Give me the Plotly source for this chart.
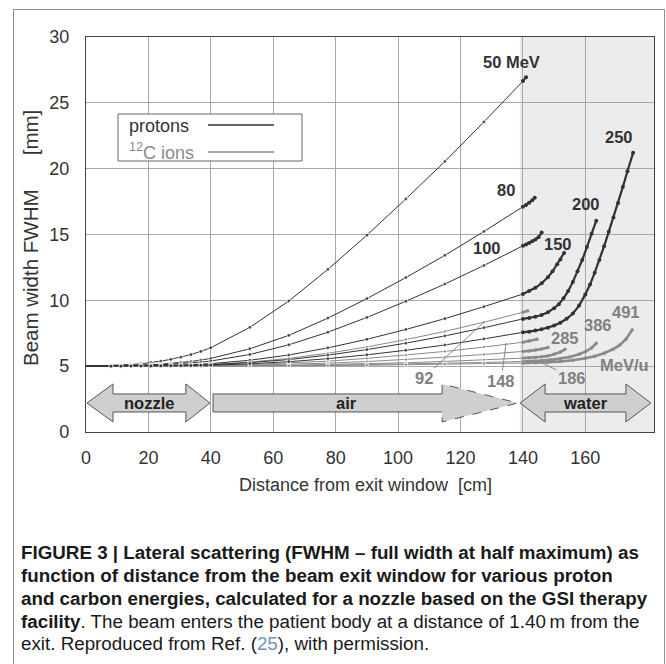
import plotly.graph_objects as go

# ---------------- data ----------------
X_AIR = [0, 8, 11.2, 14.4, 17.6, 20.8, 24, 27.2, 30.4, 33.6, 36.8, 40,
         52.5, 65, 77.5, 90, 102.5, 115, 127.5, 140]

# protons, nozzle + air
P50_AIR = [5.00, 5.05, 5.08, 5.12, 5.18, 5.27, 5.38, 5.52, 5.68, 5.88, 6.12, 6.40,
           7.95, 9.95, 12.35, 14.95, 17.70, 20.55, 23.55, 26.65]
P80_AIR = [5.00, 5.02, 5.03, 5.05, 5.07, 5.11, 5.15, 5.21, 5.28, 5.36, 5.46, 5.59,
           6.32, 7.34, 8.65, 10.13, 11.73, 13.42, 15.23, 17.11]
P100_AIR = [5.00, 5.01, 5.02, 5.03, 5.05, 5.07, 5.10, 5.14, 5.18, 5.24, 5.31, 5.39,
            5.89, 6.62, 7.58, 8.70, 9.93, 11.24, 12.65, 14.14]
P150_AIR = [5.00, 5.01, 5.01, 5.02, 5.02, 5.03, 5.05, 5.07, 5.09, 5.12, 5.15, 5.19,
            5.45, 5.85, 6.39, 7.04, 7.79, 8.61, 9.52, 10.48]
P200_AIR = [5.00, 5.00, 5.01, 5.01, 5.01, 5.02, 5.03, 5.04, 5.05, 5.07, 5.09, 5.11,
            5.27, 5.50, 5.84, 6.26, 6.75, 7.30, 7.92, 8.59]
P250_AIR = [5.00, 5.00, 5.00, 5.01, 5.01, 5.01, 5.02, 5.03, 5.03, 5.04, 5.06, 5.07,
            5.18, 5.34, 5.57, 5.86, 6.21, 6.61, 7.07, 7.57]

# protons, water
P50_WX = [140, 141]
P50_WY = [26.65, 26.95]
P80_WX = [140, 141, 142, 143, 143.8]
P80_WY = [17.11, 17.25, 17.42, 17.6, 17.8]
P100_WX = [140, 141, 142, 143, 144, 145, 146]
P100_WY = [14.14, 14.25, 14.36, 14.48, 14.62, 14.8, 15.15]
P150_WX = [140, 142, 144, 146, 148, 149.5, 151, 152, 153.2]
P150_WY = [10.48, 10.7, 10.95, 11.3, 11.75, 12.2, 12.75, 13.1, 13.6]
P200_WX = [140, 142, 144, 146, 148, 150, 151.5, 153, 154.5, 156, 157.5, 159, 160.5, 162, 163.5]
P200_WY = [8.59, 8.66, 8.75, 8.88, 9.1, 9.4, 9.7, 10.15, 10.7, 11.4, 12.2, 13.06, 14.05, 15.05, 16.05]
P250_WX = [140, 142, 144, 146, 148, 150, 152, 154, 156, 158, 160, 161.5, 163, 164.5,
           166, 167.5, 169, 170.5, 172, 173.5, 175.3]
P250_WY = [7.57, 7.62, 7.7, 7.8, 7.92, 8.08, 8.3, 8.6, 9.0, 9.6, 10.45, 11.2, 12.1, 13.06,
           14.1, 15.2, 16.3, 17.4, 18.6, 19.8, 21.2]

# carbon ions, nozzle + air
C92_AIR = [5.00, 5.00, 5.01, 5.01, 5.02, 5.02, 5.03, 5.05, 5.06, 5.08, 5.10, 5.13,
           5.31, 5.59, 5.98, 6.46, 7.02, 7.64, 8.34, 9.09]
C148_AIR = [5.00, 5.00, 5.00, 5.00, 5.01, 5.01, 5.01, 5.02, 5.02, 5.03, 5.04, 5.05,
            5.12, 5.23, 5.38, 5.59, 5.83, 6.12, 6.45, 6.82]
C186_AIR = [5.00, 5.00, 5.00, 5.00, 5.00, 5.01, 5.01, 5.01, 5.01, 5.02, 5.02, 5.03,
            5.07, 5.13, 5.23, 5.35, 5.50, 5.68, 5.89, 6.12]
C285_AIR = [5.00, 5.00, 5.00, 5.00, 5.00, 5.00, 5.00, 5.01, 5.01, 5.01, 5.01, 5.01,
            5.04, 5.07, 5.12, 5.18, 5.26, 5.36, 5.47, 5.61]
C386_AIR = [5.00, 5.00, 5.00, 5.00, 5.00, 5.00, 5.00, 5.00, 5.00, 5.00, 5.01, 5.01,
            5.02, 5.04, 5.07, 5.11, 5.16, 5.21, 5.28, 5.36]
C491_AIR = [5.00, 5.00, 5.00, 5.00, 5.00, 5.00, 5.00, 5.00, 5.00, 5.00, 5.00, 5.01,
            5.01, 5.03, 5.05, 5.07, 5.10, 5.14, 5.19, 5.24]

# carbon ions, water
C92_WX = [140, 141.5]
C92_WY = [9.09, 9.2]
C148_WX = [140, 142, 144.5]
C148_WY = [6.82, 6.92, 7.05]
C186_WX = [140, 142, 144, 146, 148]
C186_WY = [6.12, 6.16, 6.22, 6.3, 6.42]
C285_WX = [140, 142, 144, 146, 148, 150, 152, 153.5]
C285_WY = [5.61, 5.63, 5.66, 5.71, 5.78, 5.9, 6.08, 6.28]
C386_WX = [140, 143, 146, 149, 152, 155, 158, 160, 162, 163.5]
C386_WY = [5.36, 5.38, 5.42, 5.48, 5.57, 5.7, 5.9, 6.1, 6.38, 6.74]
C491_WX = [140, 144, 148, 152, 156, 160, 163, 166, 169, 171, 173, 175]
C491_WY = [5.24, 5.26, 5.3, 5.36, 5.45, 5.6, 5.76, 5.98, 6.3, 6.6, 7.05, 7.75]

X_TICKS = [0, 20, 40, 60, 80, 100, 120, 140, 160]
Y_TICKS = [0, 5, 10, 15, 20, 25, 30]

# labels: (text, x, y)
PROTON_LABELS = [("50 MeV", 136.2, 28.1), ("80", 134.6, 18.4), ("100", 128.5, 14.0),
                 ("150", 151.2, 14.3), ("200", 160.2, 17.3), ("250", 170.8, 22.4)]
CARBON_LABELS = [("285", 153.5, 7.14), ("386", 164.0, 8.13), ("491", 173.0, 9.11),
                 ("MeV/u", 172.4, 5.09)]
# pointer labels: (text, tip x, tip y, dx px, dy px)
CARBON_POINTERS = [("92", 127.7, 8.38, -61, 56), ("148", 134.6, 6.76, -5, 38),
                   ("186", 145.4, 5.34, 32, 16)]

# ---------------- figure ----------------
PC = "#333333"
CC = "#8a8a8a"
FONT = "Liberation Sans, Arial, sans-serif"

fig = go.Figure()


def add_curve(air, wx, wy, color, msize, wwidth):
    n = len(X_AIR)
    fig.add_trace(go.Scatter(x=X_AIR, y=air, mode="lines+markers",
                             line=dict(color=color, width=1),
                             marker=dict(size=[0] + [msize] * (n - 1), color=color),
                             hoverinfo="skip"))
    fig.add_trace(go.Scatter(x=wx, y=wy, mode="lines+markers",
                             line=dict(color=color, width=wwidth),
                             marker=dict(size=msize, color=color),
                             hoverinfo="skip"))


for air, wx, wy in [(C92_AIR, C92_WX, C92_WY), (C148_AIR, C148_WX, C148_WY),
                    (C186_AIR, C186_WX, C186_WY), (C285_AIR, C285_WX, C285_WY),
                    (C386_AIR, C386_WX, C386_WY), (C491_AIR, C491_WX, C491_WY)]:
    add_curve(air, wx, wy, CC, 3.5, 2.6)

for air, wx, wy in [(P50_AIR, P50_WX, P50_WY), (P80_AIR, P80_WX, P80_WY),
                    (P100_AIR, P100_WX, P100_WY), (P150_AIR, P150_WX, P150_WY),
                    (P200_AIR, P200_WX, P200_WY), (P250_AIR, P250_WX, P250_WY)]:
    add_curve(air, wx, wy, PC, 4, 2.2)

shapes = []
# water region shading
shapes.append(dict(type="rect", xref="x", yref="paper", x0=139, x1=182, y0=0, y1=1,
                   fillcolor="#ececec", line=dict(width=0), layer="below"))

ARROW_FILL = "#cfcfcf"
ARROW_LINE = "#555555"
yc, ys0, ys1, yh0, yh1 = 2.2, 1.52, 2.89, 0.76, 3.65


def dbl_arrow(xa, xb, xc, xd):
    return (f"M {xa},{yc} L {xb},{yh1} L {xb},{ys1} L {xc},{ys1} L {xc},{yh1} L {xd},{yc} "
            f"L {xc},{yh0} L {xc},{ys0} L {xb},{ys0} L {xb},{yh0} Z")


shapes.append(dict(type="path", xref="x", yref="y", path=dbl_arrow(0.32, 8.65, 32.0, 39.7),
                   fillcolor=ARROW_FILL, line=dict(color=ARROW_LINE, width=1), layer="above"))
# air arrow: filled body, solid shaft outline, dashed head outline
shapes.append(dict(type="path", xref="x", yref="y",
                   path=(f"M 40.7,{ys0} L 40.7,{ys1} L 114.1,{ys1} L 114.1,{yh1} L 138.4,{yc} "
                         f"L 114.1,{yh0} L 114.1,{ys0} Z"),
                   fillcolor=ARROW_FILL, line=dict(width=0), layer="above"))
shapes.append(dict(type="path", xref="x", yref="y",
                   path=(f"M 114.1,{ys1} L 40.7,{ys1} L 40.7,{ys0} L 114.1,{ys0}"),
                   line=dict(color=ARROW_LINE, width=1), layer="above"))
shapes.append(dict(type="path", xref="x", yref="y",
                   path=(f"M 114.1,{ys1} L 114.1,{yh1} L 138.4,{yc} L 114.1,{yh0} L 114.1,{ys0}"),
                   line=dict(color=ARROW_LINE, width=1, dash="dash"), layer="above"))
shapes.append(dict(type="path", xref="x", yref="y", path=dbl_arrow(139.1, 147.1, 173.0, 181.0),
                   fillcolor=ARROW_FILL, line=dict(color=ARROW_LINE, width=1), layer="above"))


def px_x(px):
    return (px - 86) / 568.0


def px_y(py):
    return (432 - py) / 395.0


# legend box
shapes.append(dict(type="rect", xref="paper", yref="paper", x0=px_x(118), x1=px_x(302),
                   y0=px_y(161), y1=px_y(114), fillcolor="white",
                   line=dict(color="#666666", width=1), layer="above"))
shapes.append(dict(type="line", xref="paper", yref="paper", x0=px_x(208), x1=px_x(274),
                   y0=px_y(125), y1=px_y(125), line=dict(color=PC, width=1.3)))
shapes.append(dict(type="line", xref="paper", yref="paper", x0=px_x(208), x1=px_x(274),
                   y0=px_y(152), y1=px_y(152), line=dict(color=CC, width=1.3)))
# outer frame
shapes.append(dict(type="rect", xref="paper", yref="paper", x0=px_x(13.5), x1=px_x(664.5),
                   y0=px_y(680), y1=px_y(9.5), line=dict(color="#8f8f8f", width=1),
                   fillcolor="rgba(0,0,0,0)"))

ann = []


def text_ann(x, y, t, size, color, xref="x", yref="y", xanchor="center", **kw):
    ann.append(dict(x=x, y=y, xref=xref, yref=yref, text=t, showarrow=False,
                    xanchor=xanchor, yanchor="middle",
                    font=dict(family=FONT, size=size, color=color), **kw))


for t, x, y in PROTON_LABELS:
    text_ann(x, y, f"<b>{t}</b>", 16.5, "#333333")
for t, x, y in CARBON_LABELS:
    text_ann(x, y, f"<b>{t}</b>", 16.5, "#808080")
for t, x, y, dx, dy in CARBON_POINTERS:
    ann.append(dict(x=x, y=y, xref="x", yref="y", text=f"<b>{t}</b>", showarrow=True,
                    arrowhead=0, arrowwidth=1, arrowcolor="#8a8a8a", ax=dx, ay=dy,
                    xanchor="center", yanchor="middle",
                    font=dict(family=FONT, size=16.5, color="#808080")))

for t, x in [("nozzle", 20.2), ("air", 83.6), ("water", 160.2)]:
    text_ann(x, yc, f"<b>{t}</b>", 16.5, "#222222")

# legend texts
text_ann(px_x(127), px_y(126), "protons", 18, "#333333", "paper", "paper", "left")
text_ann(px_x(127), px_y(151), "<sup>12</sup>C ions", 18, "#8a8a8a", "paper", "paper", "left")

# axis titles
text_ann(px_x(365), px_y(485), "Distance from exit window\u00a0\u00a0[cm]", 18, "#333333",
         "paper", "paper")
text_ann(px_x(30), px_y(238), "Beam width FWHM" + "\u00a0" * 6 + "[mm]", 20.5, "#333333",
         "paper", "paper", textangle=-90)

CAPTION = [
    ("<b>FIGURE 3 | Lateral scattering (FWHM \u2013 full width at half maximum) as</b>", 552),
    ("<b>function of distance from the beam exit window for various proton</b>", 575),
    ("<b>and carbon energies, calculated for a nozzle based on the GSI therapy</b>", 598),
    ("<b>facility</b>. The beam enters the patient body at a distance of 1.40\u2009m from the", 621),
    ("exit. Reproduced from Ref. (<span style='color:#6f93bb'>25</span>), with permission.", 643),
]
for t, py in CAPTION:
    text_ann(px_x(19), px_y(py), t, 18.8, "#1a1a1a", "paper", "paper", "left")

fig.update_layout(
    width=666, height=664, autosize=False,
    margin=dict(l=86, r=12, t=37, b=232, pad=0),
    paper_bgcolor="white", plot_bgcolor="white",
    showlegend=False,
    shapes=shapes, annotations=ann,
    font=dict(family=FONT, color="#333333"),
)
fig.update_xaxes(range=[0, 182], tickvals=X_TICKS, showgrid=True, gridcolor="#a8a8a8",
                 gridwidth=1, zeroline=False, showline=True, mirror=True, linecolor="#444444",
                 linewidth=1.3, ticks="", ticklabelstandoff=9,
                 tickfont=dict(family=FONT, size=18, color="#333333"))
fig.update_yaxes(range=[0, 30], tickvals=Y_TICKS, showgrid=True, gridcolor="#a8a8a8",
                 gridwidth=1, zeroline=False, showline=True, mirror=True, linecolor="#444444",
                 linewidth=1.3, ticks="", ticklabelstandoff=12,
                 tickfont=dict(family=FONT, size=18, color="#333333"))

fig.write_html("out.html")
